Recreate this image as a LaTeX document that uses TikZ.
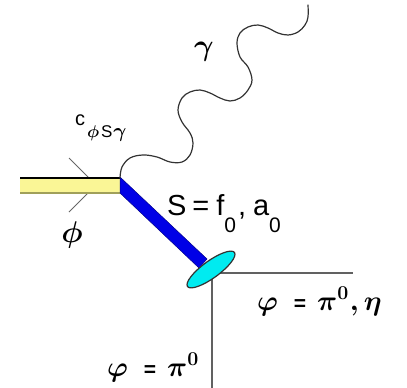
\RequirePackage{fix-cm}
\documentclass[tikz,border=0pt]{standalone}
\usepackage{fontspec}
\usepackage{bm}
\usetikzlibrary{shapes.geometric}
\newfontfamily\arial{Liberation Sans}
\definecolor{barYellow}{RGB}{250,246,150}
\definecolor{barOlive}{RGB}{160,160,90}
\definecolor{barBlue}{RGB}{0,0,230}
\definecolor{blobCyan}{RGB}{0,235,240}
\newcommand{\boldeq}{{\arial\bfseries\fontsize{21}{21}\selectfont =}}
\newcommand{\finalA}{{\fontsize{28}{28}\selectfont$\bm{\varphi}$\hspace{16pt}\boldeq\hspace{11pt}$\bm{\pi}^{\bm{0}}$\hspace{1pt}$\bm{,}$\hspace{5pt}$\bm{\eta}$}}
\newcommand{\finalB}{{\fontsize{28}{28}\selectfont$\bm{\varphi}$\hspace{16pt}\boldeq\hspace{11pt}$\bm{\pi}^{\bm{0}}$}}
\tikzset{
  thinline/.style={draw=black!62, line width=1.4pt},
  chevron/.style={draw=black!60, line width=0.8pt},
  photon/.style={draw=black!80, line width=1.2pt},
  lbl/.style={inner sep=0pt, outer sep=0pt},
}
\begin{document}
\begin{tikzpicture}[x=1pt,y=-1pt]
\useasboundingbox (0,0) rectangle (407,388);
% named points
\coordinate (v) at (120,178);
\coordinate (chA) at (69,158);
\coordinate (chB) at (96,185);
\coordinate (chC) at (69,212);
\coordinate (corner) at (212,273);
\coordinate (hEnd) at (353,273);
\coordinate (vEnd) at (212,388);
% chevron behind the bar
\draw[chevron] (chA) -- (chB) -- (chC);
% yellow bar
\fill[barYellow] (20,177) rectangle (120,193);
\draw[black, line width=2pt] (20,177.5) -- (120,177.5);
\draw[barOlive, line width=2pt] (20,192.5) -- (120,192.5);
% blue bar
\filldraw[fill=barBlue, draw=barBlue!60!black, line width=0.5pt]
  (120,177) -- (207,259) -- (199,268) -- (120,193) -- cycle;
% outgoing lines
\draw[thinline] (corner) -- (hEnd);
\draw[thinline] (corner) -- (vEnd);
% blob
\node[ellipse, minimum width=58pt, minimum height=17pt, rotate=36, fill=blobCyan,
  draw=black!80, line width=1.2pt, inner sep=0pt] (blob) at (211,269.5) {};
% photon
\draw[photon, line cap=round] plot[smooth, tension=0.6] coordinates {
 (120,178) (122,167) (130,158) (143,155) (157,157) (170,162) (182,162) (190,155)
 (193,143) (190,133) (182,122) (178,110) (182,98) (190,92) (200,90) (210,93)
 (220,98) (230,101) (240,98) (248,90) (252,80) (248,67) (240,57) (237,43)
 (240,33) (248,27) (258,25) (268,28) (278,33) (288,35) (298,32) (305,25)
 (308,17) (308,5)};
% labels
\node[lbl] (gam) at (204,52) {\fontsize{30}{30}\selectfont$\bm{\gamma}$};
\node[lbl, anchor=base west] (coup) at (75,125) {\arial\fontsize{20}{20}\selectfont c\raisebox{-12pt}{\hspace{2pt}{\fontsize{17}{17}\selectfont$\bm{\phi}$}\hspace{2pt}{\fontsize{17}{17}\selectfont S}\hspace{1pt}{\fontsize{20}{20}\selectfont$\bm{\gamma}$}}};
\node[lbl] (phiL) at (72,235) {\fontsize{30}{30}\selectfont$\bm{\phi}$};
\node[lbl, anchor=base west] (slab) at (167,215) {\arial\fontsize{29}{29}\selectfont S\hspace{6pt}=\hspace{7pt}f\raisebox{-17pt}{\fontsize{21}{21}\selectfont 0}\hspace{2pt},\hspace{7pt}a\raisebox{-17pt}{\fontsize{21}{21}\selectfont 0}};
\node[lbl, anchor=base west] (fin1) at (257,310) {\finalA};
\node[lbl, anchor=base west] (fin2) at (107,376) {\finalB};
\end{tikzpicture}
\end{document}
